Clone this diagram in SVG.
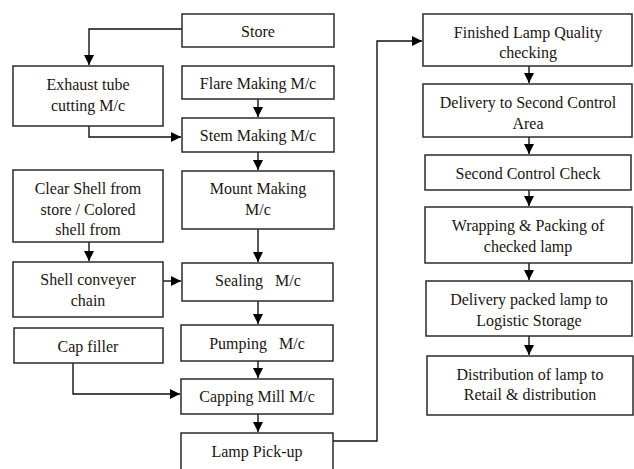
<svg xmlns="http://www.w3.org/2000/svg" width="634" height="469" viewBox="0 0 634 469">
<style>
.box{fill:#fff;stroke:#2b2b2b;stroke-width:1.5}
.t{fill:#1c1414;text-anchor:middle}
.c{fill:none;stroke:#111;stroke-width:1.4}
</style>
<defs>
<marker id="ah" viewBox="0 0 10 10" refX="10" refY="5" markerWidth="10" markerHeight="10" markerUnits="userSpaceOnUse" orient="auto">
<path d="M0,0 L10,5 L0,10 Z" fill="#000"/>
</marker>
</defs>
<rect width="634" height="469" fill="#fff"/>
<g id="connectors">
<path class="c" d="M182,29 H89 V65" marker-end="url(#ah)"/>
<path class="c" d="M89,126 V137 H181" marker-end="url(#ah)"/>
<path class="c" d="M258,99 V117" marker-end="url(#ah)"/>
<path class="c" d="M258,152 V170" marker-end="url(#ah)"/>
<path class="c" d="M258,229 V262" marker-end="url(#ah)"/>
<path class="c" d="M89,242 V261" marker-end="url(#ah)"/>
<path class="c" d="M163,281 H181" marker-end="url(#ah)"/>
<path class="c" d="M258,301 V324" marker-end="url(#ah)"/>
<path class="c" d="M258,361 V378" marker-end="url(#ah)"/>
<path class="c" d="M73,363 V394 H180" marker-end="url(#ah)"/>
<path class="c" d="M258,414 V432" marker-end="url(#ah)"/>
<path class="c" d="M333,441 H377 V41 H422" marker-end="url(#ah)"/>
<path class="c" d="M529,66 V83" marker-end="url(#ah)"/>
<path class="c" d="M529,137 V154" marker-end="url(#ah)"/>
<path class="c" d="M529,190 V206" marker-end="url(#ah)"/>
<path class="c" d="M529,263 V280" marker-end="url(#ah)"/>
<path class="c" d="M529,336 V355" marker-end="url(#ah)"/>
</g>
<g font-family="Liberation Serif, serif" font-size="16">
<g id="store"><rect class="box" x="182" y="14" width="152" height="33"/><text class="t" x="258" y="37">Store</text></g>
<g id="exhaust"><rect class="box" x="13" y="66" width="150" height="60"/><text class="t" x="88" y="90">Exhaust tube</text><text class="t" x="88" y="111">cutting M/c</text></g>
<g id="flare"><rect class="box" x="182" y="66" width="152" height="33"/><text class="t" x="258" y="89">Flare Making M/c</text></g>
<g id="stem"><rect class="box" x="182" y="118" width="152" height="34"/><text class="t" x="258" y="141">Stem Making M/c</text></g>
<g id="mount"><rect class="box" x="182" y="171" width="152" height="58"/><text class="t" x="258" y="194">Mount Making</text><text class="t" x="258" y="215">M/c</text></g>
<g id="clearshell"><rect class="box" x="13" y="170" width="150" height="72"/><text class="t" x="88" y="194">Clear Shell from</text><text class="t" x="88" y="215">store / Colored</text><text class="t" x="88" y="235">shell from</text></g>
<g id="shellconveyer"><rect class="box" x="13" y="262" width="150" height="55"/><text class="t" x="88" y="285">Shell conveyer</text><text class="t" x="88" y="306">chain</text></g>
<g id="sealing"><rect class="box" x="182" y="263" width="151" height="38"/><text class="t" x="258" y="286" xml:space="preserve">Sealing   M/c</text></g>
<g id="pumping"><rect class="box" x="181" y="325" width="152" height="36"/><text class="t" x="257" y="349" xml:space="preserve">Pumping   M/c</text></g>
<g id="capfiller"><rect class="box" x="14" y="328" width="149" height="35"/><text class="t" x="88" y="352">Cap filler</text></g>
<g id="capping"><rect class="box" x="181" y="379" width="152" height="35"/><text class="t" x="257" y="402">Capping Mill M/c</text></g>
<g id="lamppickup"><rect class="box" x="181" y="433" width="152" height="45"/><text class="t" x="257" y="457">Lamp Pick-up</text></g>
<g id="finished"><rect class="box" x="423" y="14" width="209" height="52"/><text class="t" x="528" y="38">Finished Lamp Quality</text><text class="t" x="528" y="58">checking</text></g>
<g id="delivery2"><rect class="box" x="423" y="84" width="209" height="53"/><text class="t" x="528" y="108">Delivery to Second Control</text><text class="t" x="528" y="129">Area</text></g>
<g id="secondcheck"><rect class="box" x="425" y="155" width="206" height="35"/><text class="t" x="528" y="179">Second Control Check</text></g>
<g id="wrapping"><rect class="box" x="425" y="207" width="207" height="56"/><text class="t" x="528" y="231">Wrapping &amp; Packing of</text><text class="t" x="528" y="252">checked lamp</text></g>
<g id="deliverypacked"><rect class="box" x="426" y="281" width="206" height="55"/><text class="t" x="529" y="305">Delivery packed lamp to</text><text class="t" x="529" y="326">Logistic Storage</text></g>
<g id="distribution"><rect class="box" x="427" y="356" width="206" height="59"/><text class="t" x="530" y="380">Distribution of lamp to</text><text class="t" x="530" y="400">Retail &amp; distribution</text></g>
</g>
</svg>
